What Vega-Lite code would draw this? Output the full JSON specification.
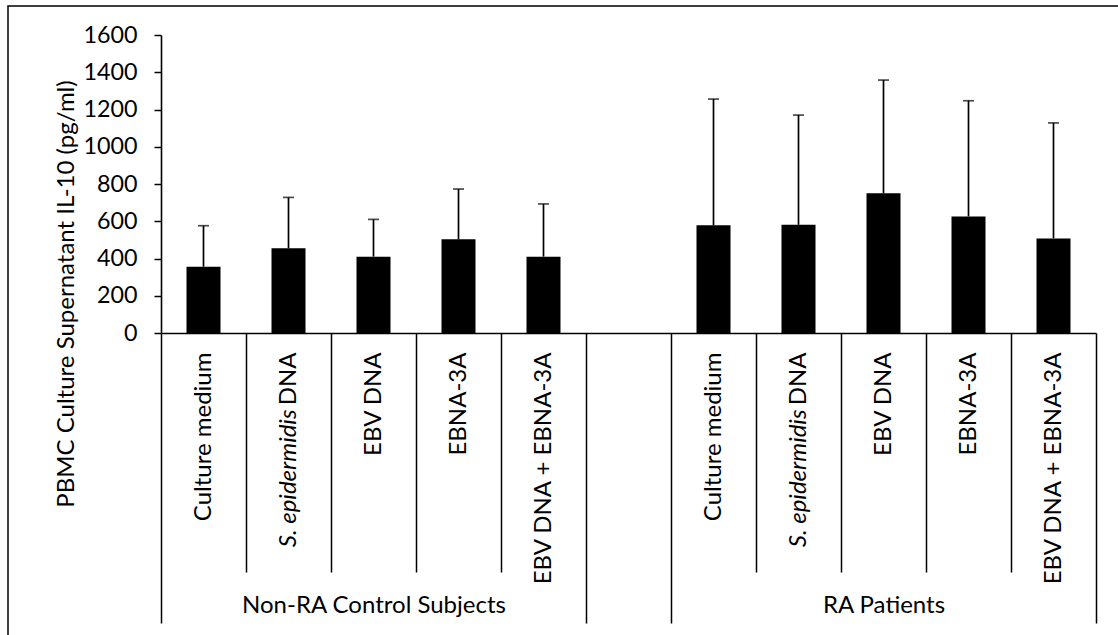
{
  "$schema": "https://vega.github.io/schema/vega-lite/v6.json",
  "width": 1120,
  "height": 640,
  "autosize": {"type": "none"},
  "padding": {"left": 8, "top": 6, "right": -10, "bottom": -11},
  "background": "white",
  "config": {
    "view": {"stroke": "#000", "strokeWidth": 1.5},
    "font": "Lato",
    "axis": {
      "labelFont": "Lato", "titleFont": "Lato", "labelColor": "#000", "titleColor": "#000",
      "domainColor": "#000", "tickColor": "#000", "grid": false,
      "labelFontSize": 24, "titleFontSize": 24, "titleFontWeight": "normal",
      "domainWidth": 1.6, "tickWidth": 1.5, "labelLimit": 0, "labelOverlap": false, "labelFlush": false
    }
  },
  "data": {"values": [
    {"key": "Non-RA Control Subjects|Culture medium", "group": "Non-RA Control Subjects", "treatment": "Culture medium", "mean": 356, "upper": 576},
    {"key": "Non-RA Control Subjects|S. epidermidis DNA", "group": "Non-RA Control Subjects", "treatment": "S. epidermidis DNA", "mean": 455, "upper": 728},
    {"key": "Non-RA Control Subjects|EBV DNA", "group": "Non-RA Control Subjects", "treatment": "EBV DNA", "mean": 410, "upper": 610},
    {"key": "Non-RA Control Subjects|EBNA-3A", "group": "Non-RA Control Subjects", "treatment": "EBNA-3A", "mean": 503, "upper": 773},
    {"key": "Non-RA Control Subjects|EBV DNA + EBNA-3A", "group": "Non-RA Control Subjects", "treatment": "EBV DNA + EBNA-3A", "mean": 410, "upper": 693},
    {"key": "RA Patients|Culture medium", "group": "RA Patients", "treatment": "Culture medium", "mean": 578, "upper": 1256},
    {"key": "RA Patients|S. epidermidis DNA", "group": "RA Patients", "treatment": "S. epidermidis DNA", "mean": 581, "upper": 1170},
    {"key": "RA Patients|EBV DNA", "group": "RA Patients", "treatment": "EBV DNA", "mean": 750, "upper": 1358},
    {"key": "RA Patients|EBNA-3A", "group": "RA Patients", "treatment": "EBNA-3A", "mean": 626, "upper": 1247},
    {"key": "RA Patients|EBV DNA + EBNA-3A", "group": "RA Patients", "treatment": "EBV DNA + EBNA-3A", "mean": 508, "upper": 1128}
  ]},
  "resolve": {"axis": {"x": "independent", "y": "independent"}},
  "layer": [
    {
      "mark": {"type": "bar", "color": "#000"},
      "encoding": {
        "x": {
          "field": "key", "type": "nominal",
          "scale": {"domain": ["Non-RA Control Subjects|Culture medium", "Non-RA Control Subjects|S. epidermidis DNA", "Non-RA Control Subjects|EBV DNA", "Non-RA Control Subjects|EBNA-3A", "Non-RA Control Subjects|EBV DNA + EBNA-3A", "|", "RA Patients|Culture medium", "RA Patients|S. epidermidis DNA", "RA Patients|EBV DNA", "RA Patients|EBNA-3A", "RA Patients|EBV DNA + EBNA-3A"], "range": [153, 1088], "paddingInner": 0.6, "paddingOuter": 0.3},
          "axis": {
            "orient": "bottom", "title": null, "offset": -313, "ticks": false, "domain": true,
            "labelAngle": -90, "labelPadding": 19,
            "labelExpr": "indexof(split(datum.value,'|')[1],'S. epidermidis ') === 0 ? replace(split(datum.value,'|')[1],'S. epidermidis ','') : split(datum.value,'|')[1]"
          }
        },
        "y": {
          "field": "mean", "type": "quantitative",
          "scale": {"domain": [0, 1600], "range": [327, 29], "nice": false, "zero": true},
          "axis": {
            "orient": "left",
            "values": [0, 200, 400, 600, 800, 1000, 1200, 1400, 1600], "format": "d",
            "offset": -153, "tickSize": 7, "labelPadding": 17, "labelFontSize": 23.3,
            "title": "PBMC Culture Supernatant IL-10 (pg/ml)",
            "titleAngle": -90, "titleX": -95, "titleY": 287.5, "titleAlign": "center", "titleBaseline": "middle"
          }
        }
      }
    },
    {
      "mark": {"type": "rule", "color": "#000", "strokeWidth": 1.7},
      "encoding": {
        "x": {
          "field": "key", "type": "nominal",
          "axis": {
            "orient": "bottom", "title": null, "offset": -313, "ticks": false, "domain": false,
            "labelAngle": -90, "labelPadding": 76, "labelFontStyle": "italic",
            "labelExpr": "indexof(split(datum.value,'|')[1],'S. epidermidis ') === 0 ? 'S. epidermidis' : ''"
          }
        },
        "y": {"field": "mean", "type": "quantitative", "axis": null},
        "y2": {"field": "upper"}
      }
    },
    {
      "mark": {"type": "tick", "color": "#000", "size": 11, "thickness": 1.7},
      "encoding": {
        "x": {
          "field": "key", "type": "nominal",
          "axis": {
            "orient": "bottom", "title": null, "offset": -313, "ticks": true, "tickOffset": -42.5,
            "tickSize": {"condition": {"test": "datum.value === 'Non-RA Control Subjects|Culture medium' || datum.value === '|' || datum.value === 'RA Patients|Culture medium'", "value": 290}, "value": 239},
            "labels": false, "domain": false
          }
        },
        "y": {"field": "upper", "type": "quantitative", "axis": null}
      }
    },
    {
      "mark": {"type": "bar", "opacity": 0},
      "encoding": {
        "x": {
          "field": "key", "type": "nominal",
          "axis": {
            "orient": "bottom", "title": null, "offset": -313, "ticks": true, "tickOffset": 42.5, "tickSize": 290,
            "tickOpacity": {"condition": {"test": "datum.value === 'RA Patients|EBV DNA + EBNA-3A'", "value": 1}, "value": 0},
            "domain": false, "labelAngle": 0, "labelPadding": -30, "labelOffset": -42.5, "labelAlign": "center", "labelBaseline": "top",
            "labelExpr": "split(datum.value,'|')[1] === 'EBV DNA' ? split(datum.value,'|')[0] : ''"
          }
        },
        "y": {"field": "mean", "type": "quantitative", "axis": null}
      }
    }
  ]
}
